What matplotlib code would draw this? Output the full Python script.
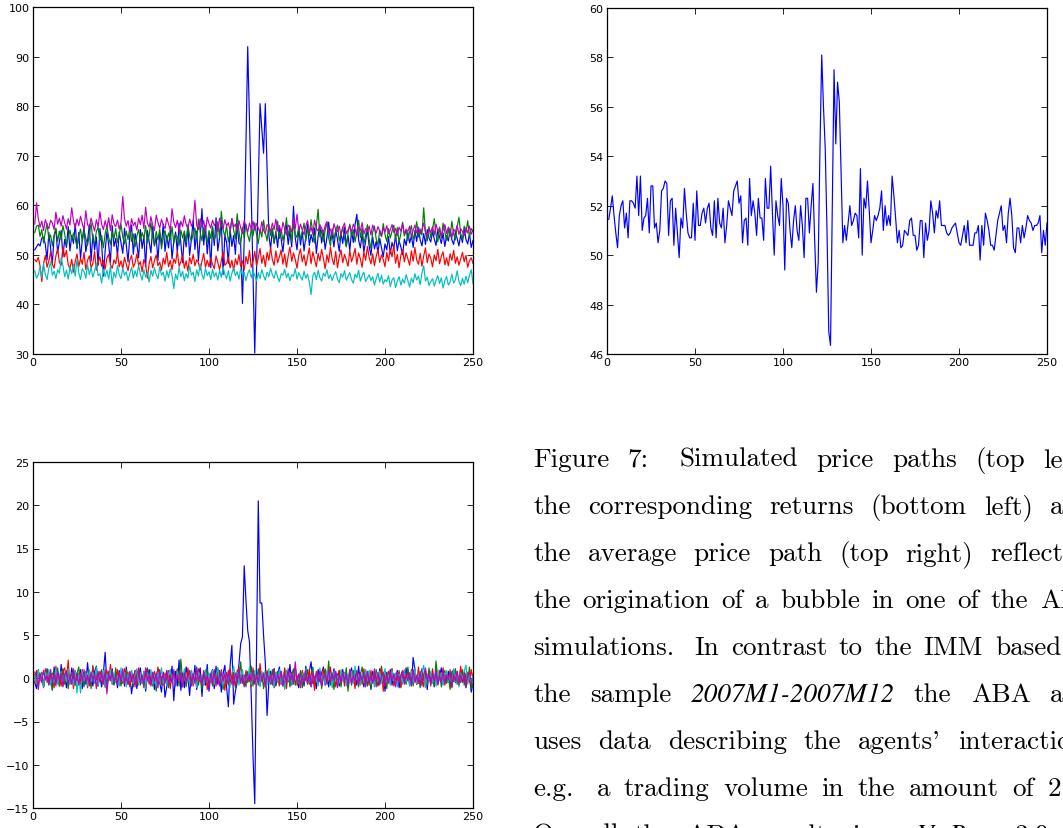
import numpy as np
import matplotlib
matplotlib.use('Agg')
import matplotlib.pyplot as plt

# simulated price paths (top left), one list per simulation run
price_blue = [51.0, 51.6, 52.2, 51.8, 53.4, 53.6, 52.1, 49.0, 54.5, 51.3, 48.2, 53.8, 55.2, 50.4, 52.7, 54.9, 49.6, 53.1, 51.5, 55.7, 50.8, 53.9, 52.3, 56.3, 51.2,
              54.5, 49.3, 53.0, 55.8, 50.6, 52.8, 56.1, 48.7, 54.2, 51.0, 53.6, 47.9, 55.3, 52.4, 45.7, 50.9, 54.7, 52.0, 48.5, 55.9, 51.7, 53.3, 49.8, 54.6, 52.5,
              50.3, 55.4, 51.9, 48.6, 53.7, 56.0, 50.1, 54.3, 52.2, 49.4, 55.1, 51.3, 53.8, 47.6, 54.9, 52.6, 50.4, 55.7, 51.8, 53.5, 48.9, 54.4, 52.1, 56.2, 50.7,
              53.9, 51.4, 55.0, 49.2, 52.8, 54.6, 50.5, 56.4, 52.3, 48.4, 54.1, 51.6, 55.5, 49.9, 53.2, 57.0, 51.1, 54.8, 48.8, 53.6, 59.3, 52.0, 55.9, 50.2, 54.3,
              47.4, 55.6, 51.9, 57.5, 50.8, 53.4, 56.9, 46.0, 54.0, 52.5, 48.3, 55.2, 51.7, 53.9, 50.1, 56.3, 52.4, 52.0, 40.2, 53.0, 72.0, 92.0, 77.0, 62.0, 46.0,
              30.2, 47.0, 64.0, 80.5, 75.5, 70.5, 80.5, 67.0, 54.0, 51.2, 55.1, 52.3, 54.6, 51.5, 55.8, 53.2, 50.6, 54.3, 56.0, 52.1, 54.8, 51.6, 59.8, 53.4, 51.0,
              55.3, 52.0, 54.7, 50.8, 53.6, 56.2, 51.9, 54.1, 52.6, 55.4, 50.3, 53.8, 55.9, 52.4, 54.9, 51.1, 53.5, 56.6, 52.9, 54.2, 51.6, 55.0, 53.1, 50.7, 54.4,
              52.3, 55.6, 51.8, 53.9, 50.9, 54.8, 52.5, 56.1, 58.2, 53.0, 51.4, 54.3, 50.6, 52.8, 55.2, 51.7, 49.9, 53.6, 51.2, 52.7, 50.4, 53.3, 51.5, 49.6, 52.2,
              51.0, 53.7, 50.2, 52.5, 51.3, 54.0, 50.8, 52.9, 51.6, 50.0, 53.2, 51.9, 54.5, 52.4, 53.8, 51.5, 54.9, 52.7, 55.6, 53.0, 51.8, 54.3, 52.1, 55.1, 53.4,
              52.6, 54.7, 53.2, 51.9, 55.0, 53.6, 52.3, 54.4, 51.7, 53.9, 52.8, 55.2, 53.0, 52.1, 54.6, 53.3, 51.8, 54.0, 52.5, 55.3, 53.1, 52.2, 54.3, 51.5, 52.9]

price_green = [54.5, 55.8, 56.0, 53.7, 55.1, 52.4, 54.6, 56.3, 53.2, 54.0, 51.8, 53.9, 55.4, 52.7, 54.8, 53.1, 55.9, 54.2, 52.0, 53.6, 55.0, 52.9, 54.4, 53.3, 51.5,
               53.8, 55.2, 52.6, 54.9, 53.4, 51.9, 54.1, 56.4, 53.0, 52.3, 54.7, 55.6, 52.8, 53.9, 51.4, 54.3, 55.8, 53.5, 52.1, 54.6, 53.2, 55.3, 52.5, 54.0, 56.2,
               53.6, 52.2, 54.8, 53.1, 55.5, 52.7, 54.2, 51.6, 53.8, 55.1, 52.9, 54.5, 53.3, 55.9, 52.4, 54.0, 56.5, 53.5, 52.0, 54.7, 53.0, 55.2, 51.2, 53.7, 54.9,
               52.6, 54.4, 53.1, 55.7, 52.3, 54.1, 53.6, 51.9, 55.0, 53.4, 54.8, 52.5, 56.1, 53.8, 52.7, 54.3, 55.4, 53.0, 57.2, 54.6, 52.8, 55.5, 53.9, 52.4, 54.9,
               53.3, 55.8, 52.9, 54.2, 56.7, 53.5, 58.8, 55.1, 53.7, 55.9, 52.6, 54.4, 57.3, 55.0, 53.2, 58.3, 54.8, 52.1, 55.6, 53.4, 56.2, 54.0, 52.7, 55.3, 53.8,
               56.5, 54.1, 52.3, 55.2, 53.6, 57.0, 54.5, 52.8, 56.2, 53.9, 55.4, 52.5, 54.7, 56.8, 53.3, 55.1, 52.9, 54.4, 57.5, 53.7, 55.9, 52.6, 56.3, 54.2, 53.5,
               55.7, 53.0, 54.6, 56.4, 52.8, 55.2, 53.9, 57.1, 54.3, 52.4, 55.8, 59.2, 53.6, 55.0, 52.7, 54.9, 56.6, 53.4, 51.8, 55.3, 53.1, 54.8, 56.0, 52.9, 54.2,
               55.6, 53.3, 51.6, 54.5, 56.2, 53.8, 55.1, 52.6, 54.7, 57.0, 53.5, 55.4, 52.2, 54.0, 56.1, 53.0, 51.3, 54.6, 55.8, 53.2, 52.0, 55.0, 53.7, 56.3, 54.1,
               52.7, 55.3, 53.4, 54.8, 56.0, 53.1, 55.5, 52.5, 54.3, 56.6, 53.8, 55.0, 52.9, 54.6, 55.9, 53.2, 54.1, 56.7, 53.6, 55.2, 54.0, 59.5, 54.4, 52.8, 55.7,
               53.5, 55.1, 57.3, 54.0, 52.6, 55.6, 53.3, 56.4, 54.7, 52.9, 55.2, 53.7, 56.8, 54.2, 53.0, 55.5, 57.6, 54.3, 53.1, 55.8, 54.5, 56.9, 53.6, 55.3, 54.8]

price_red = [49.0, 48.6, 49.5, 47.8, 44.6, 48.2, 49.9, 47.5, 48.8, 50.6, 48.1, 47.3, 49.8, 51.2, 48.5, 47.9, 51.5, 49.6, 50.9, 48.0, 47.2, 49.1, 46.5, 48.7, 50.2,
             47.6, 49.3, 48.1, 50.5, 47.0, 48.9, 49.8, 47.4, 48.2, 50.7, 46.9, 48.5, 49.6, 47.7, 48.9, 47.1, 49.4, 50.1, 48.0, 47.3, 49.0, 48.2, 50.4, 47.6, 48.8,
             47.2, 49.5, 48.1, 46.8, 48.9, 49.9, 47.5, 48.4, 50.2, 47.9, 48.6, 46.6, 49.1, 48.0, 45.3, 48.3, 49.7, 47.4, 48.8, 50.0, 47.8, 48.5, 46.9, 49.3, 48.1,
             50.5, 47.6, 48.9, 47.0, 49.2, 48.3, 50.8, 47.7, 48.6, 49.9, 47.3, 48.8, 46.7, 49.5, 48.2, 50.1, 47.8, 49.0, 48.4, 46.9, 48.7, 50.3, 47.5, 48.9, 47.6,
             49.4, 48.1, 47.2, 49.8, 48.5, 47.0, 48.8, 50.6, 47.9, 48.3, 49.5, 47.4, 48.9, 46.8, 49.2, 48.0, 50.1, 47.6, 48.8, 46.9, 49.7, 48.2, 50.9, 47.5, 48.6,
             50.7, 47.8, 49.4, 51.3, 48.3, 49.9, 47.6, 50.5, 48.9, 51.5, 49.0, 47.9, 50.8, 48.4, 49.6, 51.0, 48.1, 50.2, 47.5, 49.8, 51.6, 48.7, 50.4, 49.1, 47.3,
             49.9, 51.2, 48.6, 50.0, 47.8, 49.5, 51.4, 48.2, 50.6, 49.0, 47.6, 50.3, 48.8, 51.1, 49.3, 47.2, 50.0, 48.5, 51.6, 49.2, 48.0, 50.7, 47.4, 49.6, 51.0,
             48.4, 50.1, 49.0, 47.7, 50.9, 48.6, 49.8, 51.3, 48.1, 50.4, 49.2, 47.5, 50.6, 48.9, 51.7, 49.4, 48.2, 50.2, 47.8, 49.7, 51.1, 48.5, 50.0, 49.1, 47.6,
             50.5, 48.8, 51.2, 49.6, 51.9, 48.3, 50.1, 47.4, 49.9, 51.0, 48.6, 50.4, 49.2, 47.9, 50.8, 48.7, 51.5, 49.0, 48.1, 50.3, 47.7, 49.8, 51.4, 48.4, 50.2,
             49.3, 47.6, 50.0, 48.8, 51.1, 48.2, 49.7, 50.6, 48.0, 49.4, 47.8, 50.2, 48.9, 50.9, 48.3, 49.6, 47.9, 49.2, 50.5, 48.6, 49.9, 47.5, 48.8, 49.4, 48.3]

price_cyan = [46.8, 45.3, 46.0, 47.6, 45.4, 48.2, 46.1, 45.0, 47.3, 48.6, 45.9, 46.7, 45.2, 47.0, 46.3, 49.4, 47.8, 45.6, 46.9, 45.1, 47.5, 46.2, 48.1, 45.7, 49.1,
              46.4, 45.0, 47.2, 46.6, 45.3, 48.0, 46.0, 47.4, 45.5, 46.8, 48.3, 45.8, 46.2, 44.3, 47.1, 45.6, 46.9, 45.1, 47.7, 44.0, 46.5, 45.4, 47.9, 46.0, 45.2,
              47.3, 45.9, 46.6, 44.8, 46.2, 47.5, 45.3, 46.8, 45.6, 47.9, 46.1, 44.9, 47.0, 45.5, 46.4, 44.5, 46.9, 45.7, 47.4, 46.0, 45.2, 47.6, 45.9, 46.5, 44.7,
              46.8, 45.4, 47.2, 45.8, 43.2, 46.1, 45.0, 47.5, 45.6, 46.7, 44.8, 46.2, 45.3, 47.8, 45.9, 46.5, 44.6, 47.0, 45.7, 48.2, 46.0, 45.1, 47.3, 45.8, 46.6,
              45.0, 47.1, 45.6, 46.4, 44.9, 46.9, 45.5, 47.6, 46.1, 45.2, 46.8, 44.7, 46.3, 47.4, 45.8, 46.6, 45.1, 47.2, 45.9, 46.5, 44.8, 46.2, 47.0, 45.4, 46.7,
              45.9, 44.7, 46.4, 45.2, 47.0, 45.8, 44.9, 46.5, 45.6, 47.3, 46.0, 45.3, 46.8, 45.5, 44.6, 46.2, 45.9, 47.1, 45.4, 46.3, 44.8, 46.0, 45.7, 47.2, 45.1,
              46.4, 45.6, 44.9, 46.7, 45.3, 46.1, 44.5, 42.0, 45.8, 46.5, 45.0, 46.9, 45.4, 44.7, 46.3, 45.7, 47.0, 45.2, 46.0, 44.8, 45.9, 46.6, 45.1, 44.4, 46.2,
              45.5, 46.8, 44.9, 45.7, 46.4, 45.0, 44.3, 46.1, 45.4, 46.9, 44.7, 45.8, 46.5, 44.6, 45.3, 46.0, 44.8, 45.6, 43.9, 45.2, 46.3, 44.5, 45.9, 44.1, 45.0,
              44.6, 45.8, 43.6, 44.9, 45.4, 43.4, 44.7, 45.6, 43.9, 45.1, 44.3, 46.0, 44.8, 43.5, 45.3, 44.4, 46.2, 44.9, 45.7, 44.0, 46.4, 47.8, 44.7, 45.5, 43.8,
              44.6, 45.2, 43.7, 44.9, 45.8, 44.2, 45.4, 43.3, 44.8, 45.6, 43.9, 44.5, 46.1, 44.3, 45.0, 46.8, 44.6, 43.8, 45.3, 44.1, 45.7, 44.4, 45.9, 47.0, 44.2]

price_magenta = [56.2, 60.5, 57.3, 55.6, 56.8, 54.9, 57.1, 56.0, 55.3, 57.0, 56.4, 55.1, 58.6, 56.2, 57.4, 55.8, 57.9, 56.5, 55.2, 57.3, 56.0, 59.5, 56.8, 55.4, 57.2,
                 55.9, 57.8, 56.3, 55.0, 58.9, 56.1, 55.5, 57.4, 56.0, 54.8, 57.1, 55.6, 58.7, 56.2, 55.1, 56.9, 55.4, 57.5, 54.9, 58.1, 56.3, 55.7, 57.0, 55.2, 56.6,
                 61.8, 57.2, 55.8, 56.9, 54.7, 57.3, 55.9, 56.6, 55.0, 57.4, 56.1, 58.0, 55.3, 59.6, 56.4, 55.6, 57.7, 56.0, 54.9, 58.0, 56.5, 55.4, 57.2, 56.0, 55.3,
                 57.5, 56.2, 55.0, 59.3, 56.6, 55.5, 57.0, 54.6, 56.8, 55.7, 57.9, 56.1, 55.3, 57.2, 55.8, 56.7, 61.0, 56.0, 55.1, 57.3, 55.6, 56.9, 54.8, 57.6, 56.3,
                 55.4, 57.0, 55.9, 56.6, 54.7, 57.4, 56.0, 55.2, 57.1, 55.8, 56.5, 54.9, 57.3, 55.6, 56.2, 54.8, 56.9, 55.5, 54.3, 57.0, 55.7, 54.6, 56.4, 55.2, 56.8,
                 54.9, 56.3, 55.4, 54.5, 56.7, 55.0, 54.2, 56.1, 55.6, 54.7, 56.4, 55.1, 57.2, 54.8, 55.9, 54.3, 56.6, 55.2, 54.0, 56.0, 55.5, 54.6, 57.4, 55.3, 58.2,
                 54.9, 56.2, 55.0, 54.1, 55.8, 56.9, 54.6, 55.5, 54.2, 57.0, 55.3, 54.8, 56.1, 55.4, 54.4, 55.9, 56.7, 54.5, 55.2, 54.0, 56.3, 55.1, 54.7, 55.8, 53.9,
                 55.5, 56.4, 54.3, 55.0, 55.9, 54.6, 56.2, 55.2, 53.8, 55.6, 54.9, 56.5, 54.2, 55.3, 54.7, 55.8, 54.0, 56.0, 55.1, 54.4, 55.7, 54.8, 53.7, 55.4, 54.6,
                 55.9, 54.3, 55.0, 56.1, 54.5, 55.3, 53.9, 55.6, 54.8, 56.3, 54.1, 55.2, 54.7, 55.8, 53.6, 55.0, 56.0, 54.4, 55.5, 54.2, 55.1, 56.4, 54.6, 53.8, 55.3,
                 54.5, 55.7, 54.0, 56.2, 54.8, 55.4, 53.7, 55.0, 56.1, 54.3, 55.6, 54.9, 53.5, 55.2, 54.6, 56.0, 54.1, 55.3, 54.7, 53.9, 55.5, 54.4, 55.8, 54.2, 54.9]

# average price path (top right)
avg_path = [51.45, 51.9, 52.4, 51.6, 50.9, 50.3, 51.6, 52.0, 52.2, 51.1, 51.7, 50.7, 52.2, 52.2, 52.1, 51.9, 53.2, 51.6, 53.2, 51.0, 51.5, 51.6, 52.3, 50.9, 52.8,
            52.8, 51.1, 51.3, 50.5, 51.0, 52.6, 52.7, 53.0, 52.9, 50.8, 52.2, 52.3, 50.4, 51.9, 50.9, 49.9, 51.5, 51.1, 52.7, 51.7, 50.9, 50.7, 50.7, 52.1, 50.6,
            52.6, 51.2, 51.2, 51.7, 51.9, 51.3, 51.9, 52.1, 51.1, 50.8, 52.2, 50.7, 52.3, 51.3, 51.1, 51.9, 50.5, 51.2, 52.2, 51.9, 51.6, 52.6, 52.8, 53.0, 52.1,
            52.4, 50.5, 51.4, 51.5, 50.4, 53.1, 51.6, 52.2, 51.7, 50.8, 52.3, 51.5, 51.5, 50.6, 53.1, 51.9, 51.9, 53.6, 51.7, 50.0, 52.2, 51.6, 51.2, 53.1, 52.0,
            49.4, 52.3, 52.1, 51.0, 50.3, 51.4, 52.0, 51.0, 50.6, 52.0, 51.2, 49.9, 52.3, 52.3, 50.9, 52.0, 52.9, 50.6, 48.5, 49.7, 54.3, 58.1, 56.0, 54.3, 51.0,
            46.9, 46.35, 52.0, 57.5, 54.5, 57.0, 56.2, 53.4, 50.5, 51.2, 50.6, 51.3, 52.0, 51.2, 51.4, 51.7, 51.6, 50.7, 53.5, 50.0, 52.3, 51.9, 53.0, 51.8, 50.5,
            51.0, 51.6, 51.4, 51.6, 51.9, 52.6, 51.0, 52.0, 51.2, 51.6, 51.2, 53.2, 52.4, 51.5, 50.5, 51.0, 50.3, 50.4, 51.0, 50.9, 50.8, 51.4, 51.5, 50.8, 50.8,
            50.2, 50.4, 51.4, 51.4, 49.9, 51.3, 50.6, 51.0, 52.2, 51.7, 50.9, 51.8, 51.5, 52.2, 51.2, 51.2, 51.2, 50.9, 50.8, 50.9, 51.1, 51.2, 51.3, 50.9, 50.5,
            50.4, 50.8, 51.2, 50.5, 51.4, 50.4, 50.4, 50.4, 50.9, 50.9, 51.2, 49.8, 51.2, 50.4, 51.7, 51.4, 51.0, 50.4, 50.4, 50.2, 50.8, 51.4, 51.7, 52.0, 51.0,
            51.2, 50.5, 51.7, 52.3, 51.6, 50.3, 50.1, 51.1, 51.1, 50.5, 51.2, 50.7, 51.1, 51.6, 51.4, 51.3, 51.0, 51.2, 51.2, 51.3, 51.6, 50.1, 51.0, 50.4, 51.3]

# returns (bottom left)
ret_blue = [-0.5, -1.2, 0.8, -0.3, 0.6, -1.0, 0.2, 1.1, -0.7, 0.4, -1.3, 1.3, -0.2, 0.7, -0.9, 1.6, -0.4, 0.5, -1.1, 0.9, -0.6, 1.2, 0.1, -0.8, 0.6,
            -0.3, 1.0, -1.2, 0.4, -0.7, 1.8, -0.5, 0.3, -0.9, 0.8, 1.4, -0.6, 0.2, -1.0, 0.6, 3.0, -0.8, 0.5, -0.2, 1.1, -0.7, 0.4, -1.1, 0.9, -0.3,
            0.7, -0.9, 1.3, -0.4, 0.5, -1.8, -0.2, 0.9, -1.2, 0.4, 1.2, -0.6, 0.8, -1.5, 0.3, 1.0, -0.7, 0.6, -1.3, 0.2, 1.1, -0.5, -1.6, 0.7, -2.2,
            -1.0, 0.5, -0.3, 1.4, -2.6, 0.8, -0.9, 2.1, -1.4, 0.6, -1.1, 1.3, 0.2, -2.0, 0.9, -0.6, 1.5, -1.3, 0.4, 1.2, -2.1, 0.7, -0.8, 1.6, -1.5,
            0.3, 1.0, -1.2, 1.4, -0.7, 0.9, -1.6, 0.5, 1.5, -1.0, -3.3, 1.5, 3.8, -3.0, -1.5, -0.5, 1.6, 4.0, 4.8, 13.0, 9.0, 5.5, 4.2, -2.0, -9.0,
            -14.5, 3.0, 20.5, 8.7, 8.7, 5.0, 1.8, -4.3, -0.5, 0.8, -0.6, 1.1, -0.9, 0.4, 1.3, -0.7, 0.2, -1.0, 0.9, -0.4, 1.6, -0.8, 0.5, 1.2, -0.3,
            -1.1, 0.7, 0.3, -0.9, 1.4, -0.5, 0.8, 1.9, -0.6, 0.2, -1.2, 1.0, -0.4, 0.6, 1.3, -0.8, 0.4, -1.0, 0.9, -0.2, 1.1, -0.7, 0.5, -0.9, 0.3,
            1.0, -0.5, 0.7, -1.1, 0.4, 1.2, -0.3, 0.6, -0.8, 1.4, -0.6, 0.2, -1.0, 0.9, -0.4, 0.5, -1.3, 0.8, -0.2, 0.6, -0.9, 1.1, -0.5, 0.3, -1.5,
            0.7, -0.4, 1.0, -0.8, 0.5, -0.2, 0.9, -1.1, 0.3, 0.8, -0.6, 1.2, -0.3, 0.6, -0.9, 2.4, 1.0, -0.7, 0.4, -0.5, 1.1, -0.2, 0.6, -1.3, 0.8,
            -0.4, 0.5, -1.0, 0.9, -0.6, 0.3, 1.2, -0.7, 0.4, -0.3, 0.8, -0.9, 0.6, 1.0, -0.5, 0.2, -0.8, 1.1, -0.4, 0.7, -1.1, 0.5, 0.2, -1.6, -0.6]

ret_green = [0.5, -0.8, 1.0, -0.3, 0.7, -1.1, 0.4, 0.9, -0.6, 0.2, -1.4, 0.8, -0.5, 1.2, -0.9, 0.3, 1.1, -0.7, 0.6, -1.2, 0.4, -0.3, 1.0, -0.8, 0.5,
             1.3, -0.6, 0.2, -1.0, 0.8, -0.4, 0.6, -1.2, 1.5, -0.3, 0.7, -0.9, 0.4, 1.0, -0.6, 0.3, -1.1, 0.8, -0.2, 0.5, -0.8, 1.2, -0.5, 0.3, -0.9,
             0.6, -0.4, 1.0, -0.7, 0.2, 0.9, -1.0, 0.5, -0.3, 1.1, -0.8, 0.4, -0.6, 0.8, 1.2, -0.5, 0.3, -0.9, 0.7, -1.5, 0.4, 1.0, -0.7, 0.2, -0.4,
             0.9, -1.1, 0.5, -0.2, 0.8, -0.6, 1.1, -0.9, 2.2, -0.4, 0.6, -1.0, 0.3, 0.9, -0.7, 0.5, -0.3, 1.3, -0.8, 0.4, -1.2, 0.7, -0.5, 1.0, -0.6,
             0.3, -0.9, 0.8, -0.4, 1.2, -0.7, 0.5, -1.3, 0.6, 0.2, -0.8, 1.0, -0.5, 0.7, -1.1, 0.9, -0.3, 1.9, -0.6, 0.4, -1.0, 0.8, -0.4, 1.4, -0.9,
             0.5, -0.3, 1.1, -0.8, 0.6, -1.2, 0.9, -0.4, 0.3, -0.7, 1.0, -1.1, 0.5, 0.8, -0.6, 0.2, -0.9, 1.2, -0.5, 0.7, -1.0, 0.4, 1.1, -0.8, 0.3,
             -0.5, 0.9, -1.1, 0.6, -0.3, 1.0, -0.7, 0.4, 1.3, -0.9, 0.5, -0.4, 0.8, -1.2, 0.3, 1.1, -0.6, 2.0, -0.8, 0.4, -1.3, 0.7, -0.2, 0.9, -1.0,
             0.6, -0.4, 1.2, -1.5, 0.5, -0.8, 0.9, -0.3, 0.7, -1.0, 0.4, 1.3, -0.6, 0.2, -0.9, 0.8, -1.1, 0.5, -0.4, 1.0, -0.7, 0.3, 1.4, -0.5, 0.6,
             -1.2, 0.8, -0.3, 1.1, -0.8, 0.4, -0.6, 0.9, -1.0, 0.5, 0.2, -0.7, 1.3, -0.4, 0.6, -0.9, 1.0, -0.5, 0.3, -1.1, 0.8, -0.2, 0.5, -0.8, 1.2,
             -0.6, 0.4, -0.9, 2.0, -0.3, 0.7, -1.0, 0.5, 0.9, -0.6, 0.3, -1.3, 0.8, -0.4, 1.1, -0.7, 0.2, -0.5, 1.0, -0.8, 0.6, -0.3, 1.3, -1.2, 0.5]

ret_red = [-0.4, 0.9, -1.0, 0.5, 0.2, -0.8, 1.1, -0.5, 0.7, -0.3, 0.6, -1.1, 1.4, -0.6, 0.3, -0.9, 0.8, 1.2, -0.4, 2.1, -0.7, 0.5, -1.2, 0.9, -0.3,
           0.6, -0.8, 1.0, -0.2, 0.4, -1.1, 0.7, -0.5, 1.3, -0.6, 0.2, -0.9, 0.8, -0.4, 0.5, -1.0, 0.9, -0.3, 1.6, -0.7, 0.3, -0.5, 1.0, -0.8, 0.4,
           -0.6, 1.1, -0.3, 0.7, -1.0, 0.4, -0.5, 0.9, -0.8, 1.2, -0.4, 0.3, -1.1, 0.6, 1.0, -0.7, 0.5, -0.2, 0.8, -0.9, 1.3, -0.5, 0.2, -0.8, 0.6,
           -0.3, 0.9, -1.2, 0.5, 0.1, -0.7, 1.0, -0.4, 0.6, -1.0, 0.8, -0.5, 1.2, -0.3, 0.4, -0.9, 0.7, -0.6, 1.1, -0.4, 0.3, -0.8, 0.9, -1.3, 0.5,
           0.2, -0.6, 1.0, -0.9, 0.4, 0.8, -0.5, 0.3, -1.4, 0.7, -0.2, 1.1, -0.7, 0.5, -0.9, 0.6, 1.3, -0.4, 0.2, -0.8, 0.9, -0.5, 0.4, -1.0, 1.2,
           -0.6, 0.3, -0.8, 1.7, -0.4, 0.6, -1.0, 0.9, -0.3, 0.5, -0.7, 1.1, -0.5, 0.2, -0.9, 0.8, -0.4, 1.0, -1.2, 0.6, -0.3, 0.7, -0.6, 1.2, -0.8,
           0.4, -1.1, 0.9, -0.3, 0.6, -0.7, 1.0, -0.5, 0.3, -1.4, 0.8, -0.2, 0.5, -0.9, 1.1, -0.6, 0.4, -0.3, 1.3, -0.8, 0.6, -1.0, 0.2, 0.9, -0.5,
           0.7, -0.9, 0.3, -0.4, 1.0, -0.6, 0.5, -1.2, 0.8, -0.3, 0.6, -0.7, 1.1, -0.5, 0.2, -0.8, 0.9, -0.4, 0.4, -1.0, 0.7, -0.6, 1.2, -1.5, 0.3,
           -0.5, 0.8, -0.2, 1.1, -0.9, 0.4, -0.6, 0.7, -1.1, 0.5, 0.9, -0.3, 0.6, -0.8, 1.0, -0.4, 0.3, -0.7, 1.3, -0.5, 0.2, -1.0, 0.8, -0.3, 0.6,
           -0.9, 1.1, -0.4, 0.5, -0.7, 0.9, -0.2, 1.2, -0.8, 0.4, -0.5, 1.0, -1.1, 0.6, -0.3, 0.8, -0.6, 1.4, -0.4, 0.3, -0.9, 0.7, -0.5, 1.0, -0.2]

ret_cyan = [0.2, -0.6, 0.9, -0.3, 0.5, -1.0, 0.7, -0.2, 1.0, -0.8, 0.4, -0.5, 1.2, -0.7, 0.3, 0.8, -0.9, 0.6, -0.4, 1.1, -0.6, 0.2, -0.8, 0.9, -1.7,
            0.5, -1.7, 0.8, -0.3, 0.6, -0.9, 1.0, -0.4, 0.7, -0.6, 1.3, -0.8, 0.4, -0.2, 0.9, -1.1, 0.5, -0.3, 1.0, -0.7, 0.6, -0.5, 0.3, -0.9, 1.2,
            -0.4, 0.7, -1.0, 0.5, -0.3, 0.9, -0.6, 0.4, 1.1, -0.8, 0.2, -0.5, 0.8, -1.2, 0.6, -0.3, 1.0, -0.7, 0.4, -0.9, 0.7, -0.4, 1.2, -0.6, 0.3,
            -0.8, 0.5, 1.0, -0.5, 0.3, -1.0, 0.8, -0.3, 0.6, -0.9, 1.1, -0.4, 0.2, -0.7, 0.9, -0.6, 0.5, -1.1, 0.7, -0.2, 0.4, -0.8, 1.0, -0.5, 0.6,
            -0.3, 0.9, -0.7, 0.4, 1.2, -0.6, 0.3, -0.9, 0.8, -0.4, 0.6, -1.0, 0.5, 1.4, -0.3, 0.7, -0.8, 0.2, 1.0, -0.5, 0.6, -0.4, 1.3, -0.7, 0.3,
            0.9, -0.6, 0.4, -1.0, 0.8, -0.2, 0.5, -0.8, 1.1, -0.4, 0.3, -0.9, 0.7, -0.5, 1.0, -0.6, 0.2, -1.3, 0.9, -0.3, 0.6, -0.7, 0.4, 1.0, -0.5,
            0.3, -0.8, 0.6, -0.4, 1.1, -0.6, 0.2, -1.0, 0.7, -0.3, 0.5, -0.9, 1.2, -0.5, 0.4, -0.7, 0.9, -0.2, 0.6, -1.1, 0.8, -0.4, 0.3, -0.6, 1.0,
            -0.3, 0.7, -0.9, 0.5, -0.4, 0.8, -0.6, 1.4, -0.2, 0.4, -0.8, 0.6, -0.5, 1.0, -0.3, 0.9, -0.7, 0.2, -1.0, 0.6, -0.4, 0.8, -0.6, 0.3, 1.1,
            -0.5, 0.4, -0.8, 0.9, -0.3, 0.6, -1.0, 0.5, 0.2, -0.7, 1.0, -0.4, 0.3, -0.9, 0.8, -0.5, 1.2, -0.6, 0.4, -0.2, 0.7, 1.5, -1.1, 0.5, -0.3,
            0.8, -0.6, 0.4, -0.9, 1.0, -0.3, 0.6, -0.8, 0.2, 0.9, -0.5, 0.3, -0.7, 1.1, -0.4, 0.5, -1.0, 0.6, -0.2, 0.8, 1.5, -0.7, 0.4, -0.5, 0.3]

ret_magenta = [0.7, 0.4, -1.3, 0.6, -0.5, 0.9, -0.2, 0.3, -0.8, 1.0, -0.4, 0.5, -0.9, 0.8, -0.3, 0.6, -1.0, 0.4, 0.9, -0.6, 0.2, -0.7, 1.1, -0.5, 0.3,
               -0.8, 0.6, -0.3, 1.0, -0.6, 0.4, -0.9, 0.7, -0.2, 0.5, -1.2, 0.8, -0.4, 0.6, -0.7, 1.0, -1.8, 0.5, -0.3, 0.9, -0.5, 0.2, -0.8, 0.7, -0.4,
               1.1, -0.6, 0.3, -0.7, 0.8, -0.4, 0.5, -1.0, 0.6, 0.9, -0.5, 0.2, -0.8, 1.2, -0.3, 0.4, -0.9, 0.7, -0.4, 0.6, -1.1, 0.8, -0.2, 0.5, -0.6,
               0.9, -0.7, 0.3, -0.5, 1.0, -0.8, 0.4, -0.3, 0.7, -1.0, 0.6, -0.4, 0.2, 0.8, -0.9, 0.5, -0.6, 1.1, -0.3, 0.4, -0.7, 0.9, -0.5, 0.3, -1.1,
               0.6, -0.4, 0.8, -0.6, 0.2, -0.9, 1.0, -0.3, 0.5, -0.7, 0.9, -0.5, 0.3, -0.8, 0.6, -0.2, 1.1, -0.6, 0.4, -1.0, 0.7, -0.4, 0.5, -0.3, 0.8,
               -0.7, 0.4, -0.5, 0.9, -0.3, 0.6, -1.0, 0.7, -0.4, 0.3, -0.8, 1.0, -0.6, 0.5, -0.2, 0.8, -0.9, 0.4, -0.5, 1.1, -0.3, 0.6, -0.7, 1.9, -0.4,
               0.5, -0.8, 0.3, -0.5, 0.9, -0.6, 0.4, -1.0, 0.7, -0.3, 0.6, -0.4, 0.8, -0.9, 0.2, 0.5, -0.7, 1.0, -0.4, 0.6, -0.2, 0.8, -1.1, 0.4, -0.5,
               0.7, -0.3, 0.5, -0.8, 1.0, -0.6, 0.3, -0.4, 0.9, -0.7, 0.4, -0.2, 0.6, -1.0, 0.8, -0.5, 0.3, -0.6, 1.1, -0.4, 0.5, -0.8, 0.2, 0.7, -0.9,
               0.4, -0.6, 0.8, -0.3, 0.5, -1.0, 0.7, -0.4, 0.3, 0.9, -0.7, 0.5, -0.2, 0.6, -0.8, 1.0, -0.5, 0.3, -0.6, 0.8, -0.9, 0.4, 1.2, -0.3, 0.5,
               -0.7, 0.6, -0.4, 0.9, -0.8, 0.3, -0.5, 1.0, -0.6, 0.4, -0.2, 0.7, -1.0, 0.5, -0.3, 0.8, -0.7, 0.4, -0.5, 0.6, -0.9, 0.3, 0.7, -0.4, -1.0]

# caption text, one entry per printed line; *...* is italic, a double space is a wider gap
caption_lines = ['Figure 7:  Simulated price paths (top left),',
                 'the corresponding returns (bottom left) and',
                 'the average price path (top right) reflecting',
                 'the origination of a bubble in one of the ABA',
                 'simulations.  In contrast to the IMM based on',
                 'the sample *2007M1-2007M12* the ABA also',
                 "uses data describing the agents' interaction,",
                 'e.g.  a trading volume in the amount of 2',
                 'Overall the ABA results in a *V* *B* = 3.0']
# word of each line that sets the stretch of the spaces, and where it starts (px)
caption_anchor_word = [5, 5, 6, 9, 6, 5, 5, 8, 9]
caption_anchor_x = [975, 1050, 990, 1040, 995, 1050, 958, 1048, 1015]

colors = ['#0000ff', '#008000', '#ff0000', '#00bfbf', '#bf00bf']
W, H = 1063, 829
CAP_SIZE = 19.5

fig = plt.figure(figsize=(W / 100, H / 100), dpi=100)
ax_paths = fig.add_axes([33 / W, 1 - 355 / H, 440 / W, 347 / H])
ax_avg = fig.add_axes([607 / W, 1 - 355 / H, 440 / W, 346 / H])
ax_ret = fig.add_axes([33 / W, 1 - 809 / H, 440 / W, 346 / H])

for ys, c in zip([price_blue, price_green, price_red, price_cyan, price_magenta], colors):
    ax_paths.plot(np.arange(1, len(ys) + 1), ys, color=c, lw=0.85)
ax_avg.plot(np.arange(1, len(avg_path) + 1), avg_path, color=colors[0], lw=0.85)
for ys, c in zip([ret_blue, ret_green, ret_red, ret_cyan, ret_magenta], colors):
    ax_ret.plot(np.arange(1, len(ys) + 1), ys, color=c, lw=0.85)


def style_axes(ax, lo, hi, step):
    ax.set_xlim(0, 250)
    ax.set_ylim(lo, hi)
    ax.set_xticks(np.arange(0, 251, 50))
    ax.set_yticks(np.arange(lo, hi + step / 2, step))
    ax.tick_params(direction='in', top=True, right=True, length=4.5, width=0.6,
                   labelsize=8, pad=2.5, colors='black')
    for lab in ax.get_xticklabels() + ax.get_yticklabels():
        lab.set_family('DejaVu Sans')
    for s in ax.spines.values():
        s.set_linewidth(0.9)


style_axes(ax_paths, 30, 100, 10)
style_axes(ax_avg, 46, 60, 2)
style_axes(ax_ret, -15, 25, 5)

# caption, placed word by word so the lines come out justified like the page
fig.canvas.draw()
renderer = fig.canvas.get_renderer()
x0 = 533.0
for k, line in enumerate(caption_lines):
    y_base = H - (467 + 47 * k)
    words, extra = [], []
    for tok in line.split(' '):
        if tok == '':
            extra[-1] += 1
        else:
            words.append(tok)
            extra.append(0)
    # measure each word first
    widths = []
    for w in words:
        italic = w.startswith('*')
        t = fig.text(0, 0, w.strip('*'), fontsize=CAP_SIZE,
                     family='STIXGeneral' if italic else 'cmr10',
                     style='italic' if italic else 'normal')
        widths.append(t.get_window_extent(renderer=renderer).width)
        t.remove()
    a = caption_anchor_word[k]
    n_extra = sum(extra[:a])
    gap = (caption_anchor_x[k] - x0 - sum(widths[:a])) / (a + 0.7 * n_extra)
    x = x0
    for i, w in enumerate(words):
        italic = w.startswith('*')
        fig.text(x / W, y_base / H, w.strip('*'), fontsize=CAP_SIZE,
                 family='STIXGeneral' if italic else 'cmr10',
                 style='italic' if italic else 'normal',
                 ha='left', va='baseline')
        x += widths[i] + gap * (1 + 0.7 * extra[i])

fig.savefig('out.png', dpi=100)
